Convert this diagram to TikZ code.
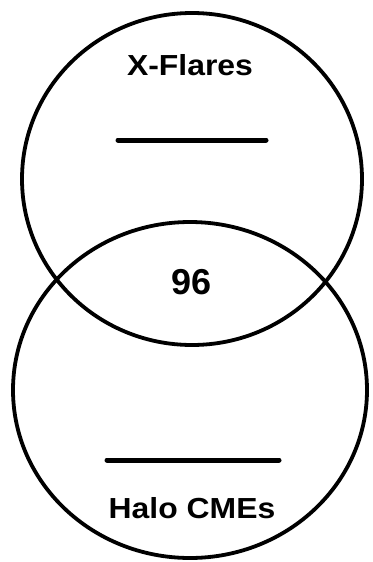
\documentclass[tikz,border=0pt]{standalone}
\usepackage{fontspec}
\setmainfont{Liberation Sans}
\begin{document}
\begin{tikzpicture}[x=1pt,y=-1pt,
  ring/.style={line width=3.8pt,draw=black},
  bar/.style={line width=5pt,line cap=round},
  lbl/.style={font=\fontsize{29}{32}\selectfont\bfseries,inner sep=0pt,xscale=1.1},
  num/.style={font=\fontsize{36}{40}\selectfont\bfseries,inner sep=0pt}]
\useasboundingbox[fill=white] (0,0) rectangle (372,562);
\draw[ring] (192,179) ellipse [x radius=170, y radius=166];
\draw[ring] (190,390) ellipse [x radius=177, y radius=168];
\node[lbl] (xf) at (190,65) {X-Flares};
\node[num] (n) at (192,282) {96};
\node[lbl] (hc) at (192,508) {Halo CMEs};
\coordinate (a1) at (118,140);
\coordinate (a2) at (266,140);
\coordinate (b1) at (107,460);
\coordinate (b2) at (279,460);
\draw[bar] (a1) -- (a2);
\draw[bar] (b1) -- (b2);
\end{tikzpicture}
\end{document}
